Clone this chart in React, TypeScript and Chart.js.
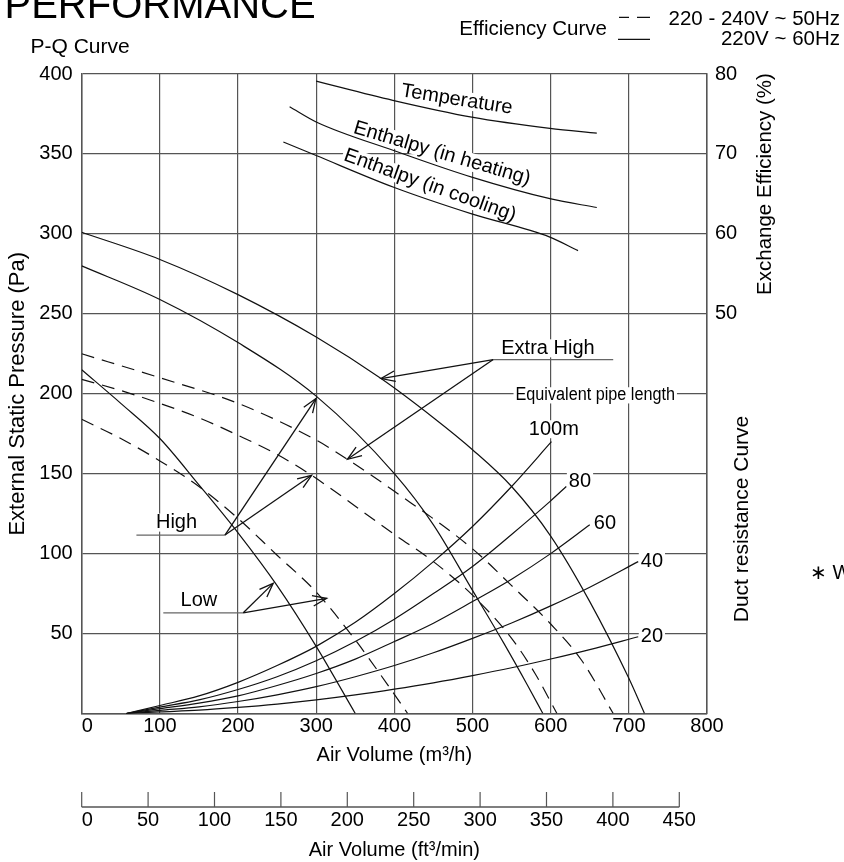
import React, { useEffect, useRef } from 'react';
import { Chart, registerables } from 'chart.js';

Chart.register(...registerables);

const FONT = '"Liberation Sans", Arial, Helvetica, sans-serif';
const INK = '#111111';
const GRID = '#555555';

// ---------- axes ----------
const qTicks = [0, 100, 200, 300, 400, 500, 600, 700, 800];
const pTicks = [0, 50, 100, 150, 200, 250, 300, 350, 400];
const effTicks = [0, 10, 20, 30, 40, 50, 60, 70, 80];
const cfmTicks = [0, 50, 100, 150, 200, 250, 300, 350, 400, 450];
const M3H_PER_CFM = 1.699;

// ---------- P-Q curves, 220V ~ 60Hz (solid) ----------
const exHigh60Q = [0, 100, 200, 300, 383, 450, 500, 550, 600, 650, 700, 720];
const exHigh60P = [301, 284, 262, 235.5, 209.5, 185, 165, 142, 111, 70, 22, 0];
const high60Q = [0, 100, 200, 300, 400, 450, 500, 540, 570, 590];
const high60P = [280, 259, 232, 198.5, 150, 118, 77, 44, 18, 0];
const low60Q = [0, 50, 100, 150, 200, 250, 300, 350];
const low60P = [215, 194, 172, 143, 113, 80, 42, 0];

// ---------- P-Q curves, 220-240V ~ 50Hz (dashed) ----------
const exHigh50Q = [0, 100, 200, 300, 340, 400, 500, 550, 600, 640, 680];
const exHigh50P = [225, 210, 194, 171, 159, 139, 103, 80, 56, 33, 0];
const high50Q = [0, 50, 100, 150, 200, 250, 294, 400, 450, 500, 550, 580, 608];
const high50P = [209, 202, 194, 185, 174, 162, 149, 112, 95, 74, 47, 25, 0];
const low50Q = [0, 50, 100, 150, 200, 250, 300, 350, 400, 417];
const low50P = [184, 172, 158, 142, 122, 99, 76, 46, 12, 0];

// ---------- duct resistance curves (equivalent pipe length) ----------
const duct100Q = [57, 100, 150, 200, 250, 300, 350, 400, 450, 500, 550, 601];
const duct100P = [0, 5, 11, 19.5, 30, 42, 57, 75, 95, 117, 142, 170];
const duct80Q = [57, 100, 150, 200, 250, 300, 350, 400, 450, 500, 550, 600, 620];
const duct80P = [0, 4, 8.5, 15, 23, 33, 45, 59, 75, 92, 112, 133, 142];
const duct60Q = [57, 100, 150, 200, 250, 300, 350, 400, 450, 500, 550, 600, 650];
const duct60P = [0, 3, 6.5, 11, 17.5, 25, 34, 45, 56.5, 70, 84, 100, 118];
const duct40Q = [57, 100, 150, 200, 250, 300, 350, 400, 450, 500, 550, 600, 650, 712];
const duct40P = [0, 2, 4.2, 7.5, 11.7, 16.8, 23, 30, 38, 47, 56.6, 67.3, 79, 95];
const duct20Q = [57, 100, 150, 200, 250, 300, 350, 400, 450, 500, 550, 600, 650, 712];
const duct20P = [0, 1, 2.1, 3.8, 5.9, 8.5, 11.6, 15.2, 19.2, 23.7, 28.6, 34.1, 40, 48];

// ---------- exchange efficiency curves (%) ----------
const tempQ = [300, 398, 499, 599, 659];
const tempE = [79.1, 76.7, 74.6, 73.2, 72.6];
const heatQ = [266, 300, 400, 499, 599, 659];
const heatE = [75.9, 74.0, 70.4, 67.1, 64.4, 63.3];
const coolQ = [258, 300, 400, 499, 599, 635];
const coolE = [71.5, 69.8, 65.8, 62.5, 59.6, 57.9];

// ---------- annotations (data coordinates) ----------
const pointerLabels = [
  { text: 'Extra High', q: 596.5, p: 228.4, from: 526.5, to: 680, lineP: 221.4, originQ: 526.5, tips: [[383, 209.5], [340, 159]] },
  { text: 'High', q: 121.3, p: 119.4, from: 70, to: 183.3, lineP: 111.6, originQ: 183.3, tips: [[299.7, 197], [294.2, 149]] },
  { text: 'Low', q: 150, p: 70.6, from: 104.4, to: 206.7, lineP: 63, originQ: 206.7, tips: [[245, 81.4], [313.4, 72]] },
];
const ductLabels = [
  { text: 'Equivalent pipe length', q: 657, p: 199, size: 18, squeeze: 0.9 },
  { text: '100m', q: 604, p: 177.8, size: 20, squeeze: 1 },
  { text: '80', q: 637.5, p: 145.3, size: 20, squeeze: 1 },
  { text: '60', q: 669.5, p: 119, size: 20, squeeze: 1 },
  { text: '40', q: 729.5, p: 95.3, size: 20, squeeze: 1 },
  { text: '20', q: 729.5, p: 48.4, size: 20, squeeze: 1 },
];
const effLabels = [
  { text: 'Temperature', q: 480, e: 76.8, angle: 9 },
  { text: 'Enthalpy (in heating)', q: 461, e: 70.06, angle: 16.5 },
  { text: 'Enthalpy (in cooling)', q: 445.6, e: 66.06, angle: 19.7 },
];

const pts = (qs: number[], ps: number[]) => qs.map((q, i) => ({ x: q, y: ps[i] }));
const f = (size: number) => `${size}px ${FONT}`;

function line(ds: { x: number; y: number }[], dashed: boolean, axis = 'y') {
  return {
    data: ds,
    showLine: true,
    borderColor: INK,
    borderWidth: 1.2,
    borderDash: dashed ? [13, 8] : [],
    pointRadius: 0,
    cubicInterpolationMode: 'monotone' as const,
    xAxisID: 'x',
    yAxisID: axis,
  };
}

function arrow(ctx: CanvasRenderingContext2D, x0: number, y0: number, x1: number, y1: number) {
  ctx.beginPath();
  ctx.moveTo(x0, y0);
  ctx.lineTo(x1, y1);
  ctx.stroke();
  const a = Math.atan2(y1 - y0, x1 - x0);
  const L = 15;
  const s = 0.36;
  ctx.beginPath();
  ctx.moveTo(x1 - L * Math.cos(a - s), y1 - L * Math.sin(a - s));
  ctx.lineTo(x1, y1);
  ctx.lineTo(x1 - L * Math.cos(a + s), y1 - L * Math.sin(a + s));
  ctx.stroke();
}

const overlayPlugin = {
  id: 'overlay',
  beforeDatasetsDraw(chart: any) {
    const ctx: CanvasRenderingContext2D = chart.ctx;
    const { x, y, y2 } = chart.scales;
    ctx.save();
    ctx.fillStyle = '#ffffff';
    for (const lb of pointerLabels) {
      ctx.font = f(20);
      const w = ctx.measureText(lb.text).width;
      const cx = x.getPixelForValue(lb.q);
      const cy = y.getPixelForValue(lb.p);
      ctx.fillRect(cx - w / 2 - 2, cy - 9, w + 4, 18);
    }
    for (const lb of ductLabels) {
      ctx.font = f(lb.size);
      const w = ctx.measureText(lb.text).width * lb.squeeze;
      const cx = x.getPixelForValue(lb.q);
      const cy = y.getPixelForValue(lb.p);
      ctx.fillRect(cx - w / 2 - 2, cy - lb.size * 0.45, w + 4, lb.size * 0.9);
    }
    for (const lb of effLabels) {
      ctx.font = f(20);
      const w = ctx.measureText(lb.text).width;
      ctx.save();
      ctx.translate(x.getPixelForValue(lb.q), y2.getPixelForValue(lb.e));
      ctx.rotate((lb.angle * Math.PI) / 180);
      ctx.fillRect(-w / 2 - 2, -9, w + 4, 18);
      ctx.restore();
    }
    ctx.restore();
  },
  afterDatasetsDraw(chart: any) {
    const ctx: CanvasRenderingContext2D = chart.ctx;
    const { x, y, y2 } = chart.scales;
    ctx.save();
    ctx.fillStyle = '#000';
    ctx.textAlign = 'center';
    ctx.textBaseline = 'middle';
    for (const lb of pointerLabels) {
      ctx.font = f(20);
      ctx.fillText(lb.text, x.getPixelForValue(lb.q), y.getPixelForValue(lb.p));
      const ly = y.getPixelForValue(lb.lineP);
      ctx.strokeStyle = '#666';
      ctx.lineWidth = 1.2;
      ctx.beginPath();
      ctx.moveTo(x.getPixelForValue(lb.from), ly);
      ctx.lineTo(x.getPixelForValue(lb.to), ly);
      ctx.stroke();
      ctx.strokeStyle = INK;
      ctx.lineWidth = 1.3;
      const ox = x.getPixelForValue(lb.originQ);
      for (const t of lb.tips) {
        arrow(ctx, ox, ly, x.getPixelForValue(t[0]), y.getPixelForValue(t[1]));
      }
    }
    for (const lb of ductLabels) {
      ctx.font = f(lb.size);
      ctx.save();
      ctx.translate(x.getPixelForValue(lb.q), y.getPixelForValue(lb.p));
      ctx.scale(lb.squeeze, 1);
      ctx.fillText(lb.text, 0, 0);
      ctx.restore();
    }
    for (const lb of effLabels) {
      ctx.font = f(20);
      ctx.save();
      ctx.translate(x.getPixelForValue(lb.q), y2.getPixelForValue(lb.e));
      ctx.rotate((lb.angle * Math.PI) / 180);
      ctx.fillText(lb.text, 0, 0);
      ctx.restore();
    }
    ctx.restore();
  },
  afterDraw(chart: any) {
    const ctx: CanvasRenderingContext2D = chart.ctx;
    const { x2 } = chart.scales;
    ctx.save();
    ctx.strokeStyle = GRID;
    ctx.lineWidth = 1.5;
    const axY = x2.top;
    ctx.beginPath();
    ctx.moveTo(x2.getPixelForValue(cfmTicks[0]), axY);
    ctx.lineTo(x2.getPixelForValue(cfmTicks[cfmTicks.length - 1]), axY);
    ctx.stroke();
    ctx.lineWidth = 1.2;
    for (const v of cfmTicks) {
      const px = x2.getPixelForValue(v);
      ctx.beginPath();
      ctx.moveTo(px, axY);
      ctx.lineTo(px, axY - 15);
      ctx.stroke();
    }
    ctx.fillStyle = '#000';
    ctx.textBaseline = 'alphabetic';
    ctx.textAlign = 'left';
    ctx.font = f(40);
    ctx.fillText('PERFORMANCE', 4.5, 18.3);
    ctx.font = f(21);
    ctx.fillText('P-Q Curve', 30.5, 52.7);
    ctx.textBaseline = 'middle';
    ctx.textAlign = 'right';
    ctx.font = f(20.5);
    ctx.fillText('Efficiency Curve', 607, 29);
    ctx.fillText('220 - 240V ~ 50Hz', 840, 19);
    ctx.fillText('220V ~ 60Hz', 840, 39.5);
    ctx.strokeStyle = INK;
    ctx.lineWidth = 1.2;
    ctx.beginPath();
    ctx.moveTo(619, 17.3);
    ctx.lineTo(629, 17.3);
    ctx.moveTo(637, 17.3);
    ctx.lineTo(650, 17.3);
    ctx.moveTo(618, 39.3);
    ctx.lineTo(650, 39.3);
    ctx.stroke();
    ctx.textAlign = 'center';
    ctx.font = f(20.5);
    ctx.save();
    ctx.translate(765, 184);
    ctx.rotate(-Math.PI / 2);
    ctx.fillText('Exchange Efficiency (%)', 0, 0);
    ctx.restore();
    ctx.save();
    ctx.font = f(21);
    ctx.translate(742, 519);
    ctx.rotate(-Math.PI / 2);
    ctx.fillText('Duct resistance Curve', 0, 0);
    ctx.restore();
    ctx.textAlign = 'left';
    ctx.font = f(20);
    ctx.fillText('\u2217 W', 810, 573);
    ctx.restore();
  },
};

export default function App() {
  const ref = useRef<HTMLCanvasElement>(null);
  useEffect(() => {
    const tickFont = { family: FONT, size: 20 };
    const chart = new Chart(ref.current as HTMLCanvasElement, {
      type: 'scatter',
      data: {
        datasets: [
          line(pts(exHigh60Q, exHigh60P), false),
          line(pts(high60Q, high60P), false),
          line(pts(low60Q, low60P), false),
          line(pts(exHigh50Q, exHigh50P), true),
          line(pts(high50Q, high50P), true),
          line(pts(low50Q, low50P), true),
          line(pts(duct100Q, duct100P), false),
          line(pts(duct80Q, duct80P), false),
          line(pts(duct60Q, duct60P), false),
          line(pts(duct40Q, duct40P), false),
          line(pts(duct20Q, duct20P), false),
          line(pts(tempQ, tempE), false, 'y2'),
          line(pts(heatQ, heatE), false, 'y2'),
          line(pts(coolQ, coolE), false, 'y2'),
        ] as any,
      },
      options: {
        responsive: false,
        animation: false,
        devicePixelRatio: 1,
        layout: { padding: { top: 74, left: 0, right: 0, bottom: 0 } },
        plugins: { legend: { display: false }, tooltip: { enabled: false } },
        events: [],
        scales: {
          x: {
            type: 'linear',
            position: 'bottom',
            weight: 0,
            min: qTicks[0],
            max: qTicks[qTicks.length - 1],
            afterBuildTicks: (s: any) => { s.ticks = qTicks.map((v) => ({ value: v })); },
            afterFit: (s: any) => { s.height = 93.5; },
            grid: { color: GRID, lineWidth: 1.2, drawTicks: false },
            border: { color: GRID, width: 1.5 },
            ticks: {
              padding: 1,
              color: '#000',
              font: tickFont,
              maxRotation: 0,
              autoSkip: false,
              callback: (v: any) => (v === 0 ? '  0' : String(v)),
            },
            title: {
              display: true,
              text: 'Air Volume (m\u00b3/h)',
              color: '#000',
              font: { family: FONT, size: 20 },
              padding: { top: 0, bottom: 40 },
            },
          },
          x2: {
            type: 'linear',
            position: 'bottom',
            weight: 1,
            min: 0,
            max: qTicks[qTicks.length - 1] / M3H_PER_CFM,
            afterBuildTicks: (s: any) => { s.ticks = cfmTicks.map((v) => ({ value: v })); },
            afterFit: (s: any) => { s.height = 55; },
            grid: { display: false, drawTicks: false, tickLength: 0 },
            border: { display: false },
            ticks: {
              padding: 1,
              color: '#000',
              font: tickFont,
              maxRotation: 0,
              autoSkip: false,
              callback: (v: any) => (v === 0 ? '  0' : String(v)),
            },
            title: {
              display: true,
              text: 'Air Volume (ft\u00b3/min)',
              color: '#000',
              font: { family: FONT, size: 20 },
              padding: { top: 0, bottom: 0 },
            },
          },
          y: {
            type: 'linear',
            position: 'left',
            min: pTicks[0],
            max: pTicks[pTicks.length - 1],
            afterBuildTicks: (s: any) => { s.ticks = pTicks.map((v) => ({ value: v })); },
            afterFit: (s: any) => { s.width = 81.7; },
            grid: { color: GRID, lineWidth: 1.2, drawTicks: false },
            border: { color: GRID, width: 1.5 },
            ticks: {
              padding: 9,
              color: '#000',
              font: tickFont,
              callback: (v: any) => (v === 0 ? '' : String(v)),
            },
            title: {
              display: true,
              text: 'External Static Pressure (Pa)',
              color: '#000',
              font: { family: FONT, size: 22 },
              padding: { top: 4.6, bottom: 0 },
            },
          },
          y2: {
            type: 'linear',
            position: 'right',
            min: effTicks[0],
            max: effTicks[effTicks.length - 1],
            afterBuildTicks: (s: any) => { s.ticks = effTicks.map((v) => ({ value: v })); },
            afterFit: (s: any) => { s.width = 137; },
            grid: { display: false, drawTicks: false },
            border: { color: GRID, width: 1.5 },
            ticks: {
              padding: 8,
              color: '#000',
              font: tickFont,
              callback: (v: any) => (v >= 50 ? String(v) : ''),
            },
          },
        },
      } as any,
      plugins: [overlayPlugin],
    });
    return () => chart.destroy();
  }, []);
  return (
    <div style={{ position: 'absolute', left: 0, top: 0, width: 844, height: 862, background: '#fff' }}>
      <canvas ref={ref} width={844} height={862} style={{ display: 'block', width: 844, height: 862 }} />
    </div>
  );
}
